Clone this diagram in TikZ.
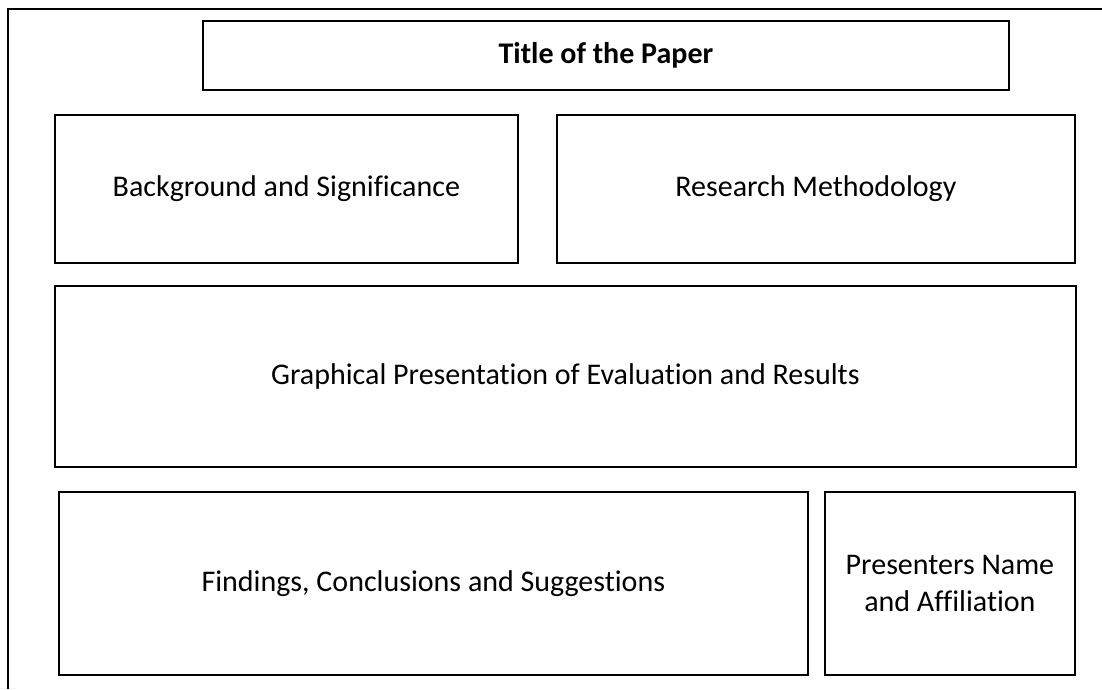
\documentclass[tikz,border=0pt]{standalone}
\usepackage{fontspec}
\setmainfont{Carlito}[RawFeature=-liga]
\usepackage{tikz}
\usetikzlibrary{positioning}

\tikzset{
  panel/.style={draw=black, line width=1.8pt, anchor=north west, align=center,
    inner sep=0pt, font=\fontsize{30}{37}\selectfont},
  frameline/.style={draw=black, line width=2.6pt}
}

\begin{document}
\begin{tikzpicture}[x=1pt, y=-1pt]
      \useasboundingbox (0,0) rectangle (1102,689);

      % outer page frame (only top and left edges show)
      \coordinate (fr-corner) at (8,9);
      \coordinate (fr-right) at (1102,9);
      \coordinate (fr-bottom) at (8,689);
      \draw[frameline] (fr-right) -- (fr-corner) -- (fr-bottom);

      \node[panel, minimum width=806pt, minimum height=69pt] (title) at (202,20)
        {\bfseries Title of the Paper};

      \node[panel, minimum width=463pt, minimum height=148pt] (background) at (54,114)
        {Background and Significance};
      \node[panel, minimum width=518pt, minimum height=148pt] (method) at (556,114)
        {Research Methodology};

      \node[panel, minimum width=1021pt, minimum height=181pt] (results) at (54,285)
        {Graphical Presentation of Evaluation and Results};

      \node[panel, minimum width=749pt, minimum height=183pt] (findings) at (58,491)
        {Findings, Conclusions and Suggestions};
      \node[panel, minimum width=250pt, minimum height=183pt] (presenters) at (824,491)
        {Presenters Name\\and Affiliation};
\end{tikzpicture}
\end{document}
